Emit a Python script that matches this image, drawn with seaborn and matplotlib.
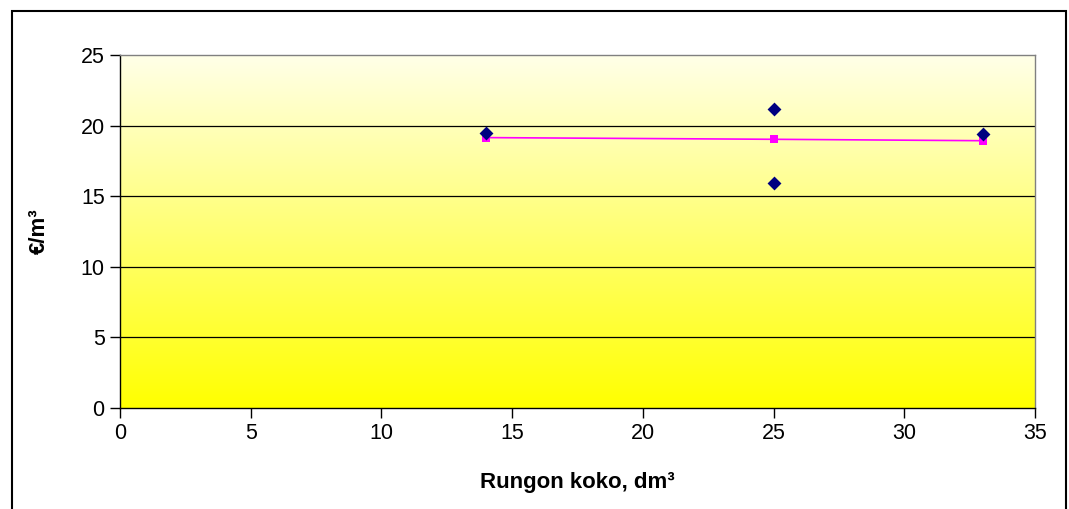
import numpy as np
import pandas as pd
import matplotlib
matplotlib.use("Agg")
import matplotlib.pyplot as plt
import seaborn as sns
from matplotlib.patches import Rectangle

# havainnot (rungon koko, hinta)
koko_hav = [14, 25, 25, 33]
hinta_hav = [19.5, 21.2, 15.9, 19.4]
# keskiarvot
koko_ka = [14, 25, 33]
hinta_ka = [19.15, 19.03, 18.93]

x_ticks = [0, 5, 10, 15, 20, 25, 30, 35]
y_ticks = [0, 5, 10, 15, 20, 25]

sns.set_style("white")
plt.rcParams['font.family'] = ['Liberation Sans', 'DejaVu Sans']
plt.rcParams['text.color'] = 'black'
plt.rcParams['axes.labelcolor'] = 'black'
plt.rcParams['xtick.color'] = 'black'
plt.rcParams['ytick.color'] = 'black'

fig = plt.figure(figsize=(10.69, 5.09), dpi=100)
W, H = 1069, 509
ax = fig.add_axes([120 / W, 1 - 408 / H, (1035 - 120) / W, (408 - 55) / H])

# kehys koko kuvan ympärille
fig.patches.append(Rectangle((12 / W, -0.05), (1066 - 12) / W, 1.05 - 11 / H,
                             transform=fig.transFigure, fill=False,
                             edgecolor='black', linewidth=1.5))

# liukuvärjätty tausta
grad = np.linspace(0, 1, 256).reshape(-1, 1)
cmap = matplotlib.colors.LinearSegmentedColormap.from_list(
    'kelta', [(1, 1, 0.0), (1, 1, 0.91)])
ax.imshow(grad, aspect='auto', cmap=cmap, origin='lower',
          extent=[0, 35, 0, 25], zorder=0)

for y in y_ticks[1:-1]:
    ax.axhline(y, color='black', linewidth=0.9, zorder=1)

df_ka = pd.DataFrame({'koko': koko_ka, 'hinta': hinta_ka})
df_hav = pd.DataFrame({'koko': koko_hav, 'hinta': hinta_hav})

sns.lineplot(data=df_ka, x='koko', y='hinta', ax=ax, color='#FF00FF',
             linewidth=1.2, marker='s', markersize=6, markeredgewidth=0,
             zorder=3)
sns.scatterplot(data=df_hav, x='koko', y='hinta', ax=ax, color='#000080',
                marker='D', s=50, linewidth=0, zorder=4)

ax.set_xlim(0, 35)
ax.set_ylim(0, 25)
ax.set_xticks(x_ticks)
ax.set_yticks(y_ticks)
ax.tick_params(axis='both', labelsize=15.5, direction='out', length=7,
               width=1, color='black', left=True, bottom=True, pad=4)

for s in ['top', 'right']:
    ax.spines[s].set_color('#808080')
    ax.spines[s].set_linewidth(1)
for s in ['left', 'bottom']:
    ax.spines[s].set_color('black')
    ax.spines[s].set_linewidth(1)

ax.set_xlabel('Rungon koko, dm³', fontsize=16, fontweight='bold', labelpad=20)
ax.set_ylabel('€/m³', fontsize=16, fontweight='bold', labelpad=22)

fig.savefig('out.png', dpi=100)
